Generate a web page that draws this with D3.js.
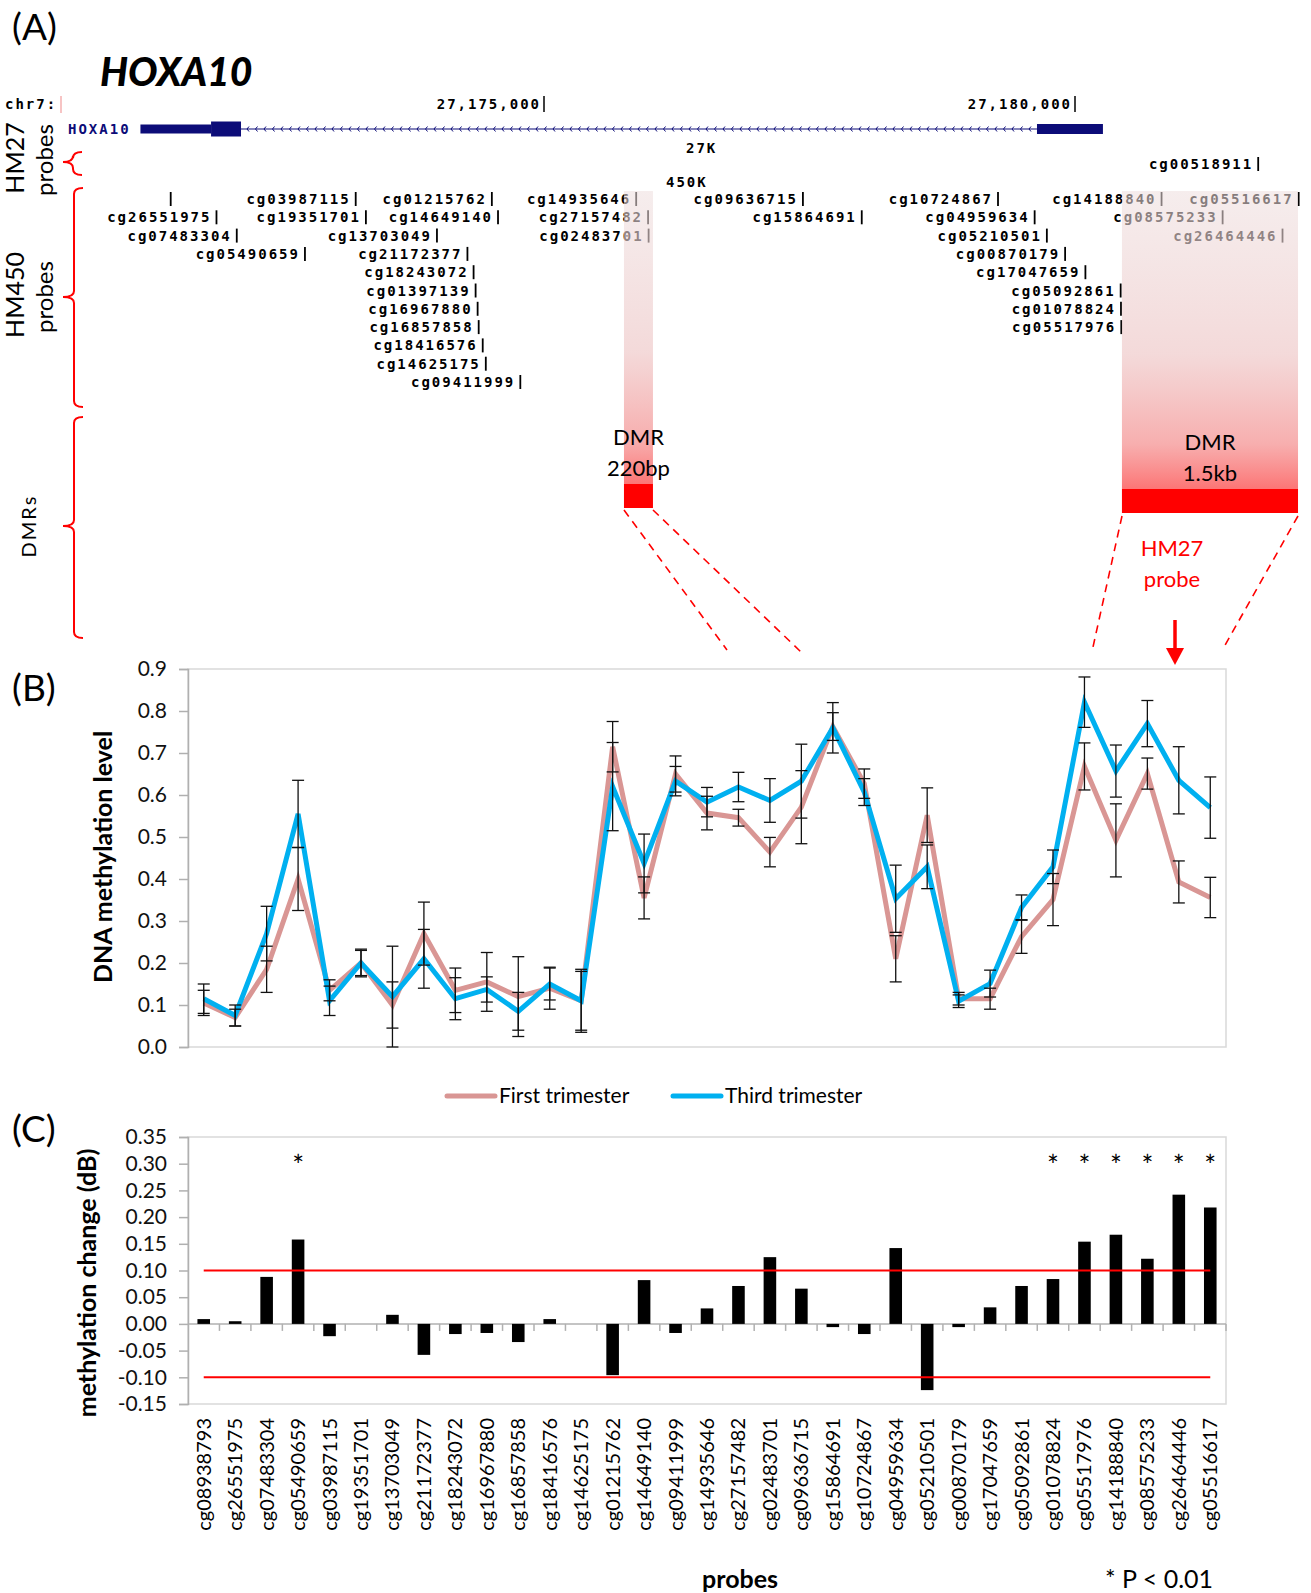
<!DOCTYPE html>
<html>
<head>
<meta charset="utf-8">
<script src="https://cdn.jsdelivr.net/npm/d3@7"></script>
<style>
  body { margin: 0; background: #fff; }
  svg { display: block; font-family: Lato, "Open Sans", sans-serif; }
  .mono { font-family: "DejaVu Sans Mono", monospace; font-size: 14px; letter-spacing: 2px; font-weight: bold; }
</style>
</head>
<body>
<div id="fig"></div>
<script>
// ---- panel B / C data ----
const probes = ["cg08938793","cg26551975","cg07483304","cg05490659","cg03987115","cg19351701",
  "cg13703049","cg21172377","cg18243072","cg16967880","cg16857858","cg18416576","cg14625175",
  "cg01215762","cg14649140","cg09411999","cg14935646","cg27157482","cg02483701","cg09636715",
  "cg15864691","cg10724867","cg04959634","cg05210501","cg00870179","cg17047659","cg05092861",
  "cg01078824","cg05517976","cg14188840","cg08575233","cg26464446","cg05516617"];

const firstTrimester = [0.105,0.07,0.185,0.40,0.135,0.20,0.10,0.27,0.135,0.155,0.12,0.14,0.11,
  0.715,0.355,0.65,0.557,0.546,0.464,0.571,0.763,0.627,0.21,0.552,0.115,0.115,0.263,
  0.351,0.668,0.492,0.651,0.393,0.356];
const firstErr = [0.03,0.02,0.055,0.075,0.025,0.03,0.055,0.075,0.053,0.07,0.095,0.05,0.075,
  0.06,0.05,0.043,0.04,0.02,0.035,0.087,0.033,0.035,0.055,0.065,0.015,0.025,0.04,
  0.062,0.056,0.087,0.037,0.05,0.048];
const thirdTrimester = [0.115,0.075,0.27,0.555,0.11,0.20,0.12,0.21,0.115,0.137,0.085,0.15,0.11,
  0.62,0.437,0.633,0.583,0.619,0.587,0.633,0.76,0.607,0.353,0.429,0.109,0.151,0.332,
  0.429,0.821,0.657,0.77,0.635,0.57];
const thirdErr = [0.035,0.025,0.065,0.08,0.035,0.033,0.12,0.07,0.05,0.03,0.045,0.038,0.07,
  0.105,0.07,0.035,0.035,0.035,0.052,0.088,0.06,0.032,0.08,0.052,0.015,0.032,0.03,
  0.04,0.06,0.062,0.055,0.08,0.073];

const methylChange = [0.009,0.005,0.088,0.158,-0.023,0,0.017,-0.058,-0.019,-0.017,-0.034,0.009,0,
  -0.096,0.082,-0.017,0.029,0.071,0.125,0.066,-0.006,-0.019,0.142,-0.124,-0.006,0.031,0.071,
  0.084,0.154,0.167,0.122,0.242,0.218];
const significant = ["cg05490659","cg01078824","cg05517976","cg14188840","cg08575233","cg26464446","cg05516617"];
const thresholds = [0.10, -0.10];

const yTicksB = [0,0.1,0.2,0.3,0.4,0.5,0.6,0.7,0.8,0.9];
const yTicksC = [-0.15,-0.10,-0.05,0,0.05,0.10,0.15,0.20,0.25,0.30,0.35];
const seriesNames = ["First trimester","Third trimester"];

// ---- panel A data (chr7, bp) ----
const chrTicks = [27175000, 27180000];
const geneName = "HOXA10";
const geneParts = [
  {type: "utr",    start: 27171200, end: 27171865},
  {type: "cds",    start: 27171865, end: 27172147},
  {type: "intron", start: 27172147, end: 27179642},
  {type: "exon",   start: 27179642, end: 27180263}
];
const hm27Names = ["cg00518911"];
const hm27Pos = [27181725];
const hm450Names = ["cg08938793","cg03987115","cg01215762","cg14935646","cg09636715","cg10724867","cg14188840","cg05516617",
  "cg26551975","cg19351701","cg14649140","cg27157482","cg15864691","cg04959634","cg08575233",
  "cg07483304","cg13703049","cg02483701","cg05210501","cg26464446",
  "cg05490659","cg21172377","cg00870179",
  "cg18243072","cg17047659",
  "cg01397139","cg05092861",
  "cg16967880","cg01078824",
  "cg16857858","cg05517976",
  "cg18416576","cg14625175","cg09411999"];
const hm450Pos = [27171485,27173227,27174509,27175868,27177438,27179275,27180815,27182106,
  27171916,27173323,27174567,27175980,27177992,27179620,27181390,
  27172107,27173992,27175985,27179735,27181954,
  27172749,27174279,27179907,
  27174337,27180098,
  27174356,27180430,
  27174375,27180433,
  27174385,27180436,
  27174423,27174452,27174777];
const hm450Row = [0,0,0,0,0,0,0,0, 1,1,1,1,1,1,1, 2,2,2,2,2, 3,3,3, 4,4, 5,5, 6,6, 7,7, 8,9,10];
const dmrStart = [27175753, 27180442];
const dmrEnd = [27176026, 27182100];
const dmrSize = ["220bp", "1.5kb"];

// ---- drawing ----
const W = 1311, H = 1593;
const svg = d3.select("#fig").append("svg").attr("width", W).attr("height", H);

const red = "#ff0000", pink = "#d99694", blue = "#00b0f0", navy = "#0c0c78";

function panelLabel(txt, x, y) {
  svg.append("text").attr("x", x).attr("y", y).attr("font-size", 37).text(txt);
}

function brace(xHook, xSpine, xTip, yTop, yMid, yBot) {
  const r = 6;
  const p = `M${xHook},${yTop} Q${xSpine},${yTop} ${xSpine},${yTop + r} L${xSpine},${yMid - r}
    Q${xSpine},${yMid} ${xTip},${yMid} Q${xSpine},${yMid} ${xSpine},${yMid + r}
    L${xSpine},${yBot - r} Q${xSpine},${yBot} ${xHook},${yBot}`;
  svg.append("path").attr("d", p).attr("fill", "none").attr("stroke", red).attr("stroke-width", 2);
}

function vText(txt, x, y, size, extra) {
  const t = svg.append("text").attr("transform", `translate(${x},${y}) rotate(-90)`)
    .attr("text-anchor", "middle").attr("font-size", size).text(txt);
  if (extra) extra(t);
  return t;
}

// ===== Panel A =====
panelLabel("(A)", 12, 40);
svg.append("text").attr("x", 100).attr("y", 86).attr("font-size", 39)
  .attr("font-weight", 900).attr("font-style", "italic").text("HOXA10");

const xg = d3.scaleLinear().domain(chrTicks).range([544, 1075]);

const gA = svg.append("g");
gA.append("text").attr("class", "mono").attr("x", 5).attr("y", 109).text("chr7:");
gA.append("line").attr("x1", 61).attr("x2", 61).attr("y1", 96).attr("y2", 113)
  .attr("stroke", "#f4b0b0").attr("stroke-width", 1.5);
chrTicks.forEach(t => {
  const x = xg(t);
  gA.append("text").attr("class", "mono").attr("x", x - 3).attr("y", 109)
    .attr("text-anchor", "end").text(d3.format(",")(t));
  gA.append("line").attr("x1", x).attr("x2", x).attr("y1", 96).attr("y2", 112)
    .attr("stroke", "#000").attr("stroke-width", 1.5);
});

// gene model
const geneY = 129;
gA.append("text").attr("class", "mono").attr("x", 68).attr("y", geneY + 5)
  .attr("fill", navy).attr("font-size", 12).attr("letter-spacing", 1.5).text(geneName);
const hByType = {utr: 9, cds: 15, exon: 10};
geneParts.forEach(p => {
  const x0 = xg(p.start), x1 = xg(p.end);
  if (p.type === "intron") {
    gA.append("line").attr("x1", x0).attr("x2", x1).attr("y1", geneY).attr("y2", geneY)
      .attr("stroke", navy).attr("stroke-width", 1.2);
    const chev = d3.range(x0 + 6, x1 - 4, 8.5);
    gA.append("path").attr("fill", "none").attr("stroke", navy).attr("stroke-width", 1)
      .attr("d", chev.map(c => `M${c + 2},${geneY - 2.5} L${c},${geneY} L${c + 2},${geneY + 2.5}`).join(" "));
  } else {
    const h = hByType[p.type];
    gA.append("rect").attr("x", x0).attr("y", geneY - h / 2).attr("width", x1 - x0).attr("height", h)
      .attr("fill", navy);
  }
});
gA.append("text").attr("class", "mono").attr("x", 686).attr("y", 153).text("27K");
gA.append("text").attr("class", "mono").attr("x", 666).attr("y", 187).text("450K");

function probeLabel(name, pos, y) {
  const x = xg(pos);
  const txtEnd = x - 5;
  gA.append("line").attr("x1", x).attr("x2", x).attr("y1", y - 12).attr("y2", y + 2)
    .attr("stroke", "#000").attr("stroke-width", 1.8);
  if (txtEnd - name.length * 10.4 > 90) {
    gA.append("text").attr("class", "mono").attr("x", txtEnd).attr("y", y)
      .attr("text-anchor", "end").text(name);
  }
}
hm27Names.forEach((n, i) => probeLabel(n, hm27Pos[i], 169));
const rowY = r => 204 + r * 18.3;
hm450Names.forEach((n, i) => probeLabel(n, hm450Pos[i], rowY(hm450Row[i])));

// DMR boxes
const defs = svg.append("defs");
const grad = defs.append("linearGradient").attr("id", "dmrGrad").attr("x1", 0).attr("x2", 0).attr("y1", 0).attr("y2", 1);
grad.append("stop").attr("offset", "0%").attr("stop-color", "rgb(238,222,222)").attr("stop-opacity", 0.55);
grad.append("stop").attr("offset", "55%").attr("stop-color", "rgb(240,205,205)").attr("stop-opacity", 0.75);
grad.append("stop").attr("offset", "85%").attr("stop-color", "rgb(246,160,160)").attr("stop-opacity", 0.85);
grad.append("stop").attr("offset", "100%").attr("stop-color", "rgb(252,110,110)").attr("stop-opacity", 0.95);

const dmrTop = 191, dmrBlockH = 24;
const dmrBlockY = [484, 489];
dmrStart.forEach((s, i) => {
  const x0 = xg(s), x1 = xg(dmrEnd[i]);
  svg.append("rect").attr("x", x0).attr("y", dmrTop).attr("width", x1 - x0)
    .attr("height", dmrBlockY[i] - dmrTop).attr("fill", "url(#dmrGrad)");
  svg.append("rect").attr("x", x0).attr("y", dmrBlockY[i]).attr("width", x1 - x0)
    .attr("height", dmrBlockH).attr("fill", red);
  const cx = (x0 + x1) / 2;
  svg.append("text").attr("x", cx).attr("y", dmrBlockY[i] - 39).attr("text-anchor", "middle")
    .attr("font-size", 22).text("DMR");
  svg.append("text").attr("x", cx).attr("y", dmrBlockY[i] - 8).attr("text-anchor", "middle")
    .attr("font-size", 22).text(dmrSize[i]);
});

// brackets and track labels
brace(82, 73, 63, 152, 162, 175);
brace(83, 74, 63, 188, 297, 407);
brace(83, 74, 63, 417, 526, 638);
vText("HM27", 24, 158, 25);
vText("probes", 53, 160, 24);
vText("HM450", 24, 295, 25);
vText("probes", 53, 297, 24);
vText("DMRs", 36, 526, 20, t => t.attr("letter-spacing", 2));

// dashed zoom lines
const dash = [[624, 510, 727, 650], [653, 510, 801, 652], [1122, 516, 1093, 647], [1298, 516, 1224, 647]];
dash.forEach(d => svg.append("line").attr("x1", d[0]).attr("y1", d[1]).attr("x2", d[2]).attr("y2", d[3])
  .attr("stroke", red).attr("stroke-width", 1.6).attr("stroke-dasharray", "8,6"));
svg.append("text").attr("x", 1172).attr("y", 556).attr("text-anchor", "middle")
  .attr("font-size", 22).attr("fill", red).text("HM27");
svg.append("text").attr("x", 1172).attr("y", 587).attr("text-anchor", "middle")
  .attr("font-size", 22).attr("fill", red).text("probe");
svg.append("line").attr("x1", 1175).attr("x2", 1175).attr("y1", 620).attr("y2", 652)
  .attr("stroke", red).attr("stroke-width", 3.5);
svg.append("path").attr("d", "M1166,648 L1184,648 L1175,665 Z").attr("fill", red);

// ===== Panel B =====
const left = 188, right = 1226;
const xBand = d3.scaleBand().domain(probes).range([left, right]);
const xc = p => xBand(p) + xBand.bandwidth() / 2;

panelLabel("(B)", 12, 701);
const yB = d3.scaleLinear().domain([0, 0.9]).range([1047, 669]);
const gB = svg.append("g");
gB.append("rect").attr("x", left).attr("y", yB(0.9)).attr("width", right - left)
  .attr("height", yB(0) - yB(0.9)).attr("fill", "none").attr("stroke", "#d9d9d9").attr("stroke-width", 1.5);
const axB = gB.append("g").attr("transform", `translate(${left},0)`)
  .call(d3.axisLeft(yB).tickValues(yTicksB).tickFormat(d3.format(".1f")).tickSize(9).tickPadding(12));
axB.selectAll("path,line").attr("stroke", "#b0b0b0").attr("stroke-width", 1.5);
axB.selectAll("text").attr("font-size", 21).attr("font-family", "Lato").attr("fill", "#111");
vText("DNA methylation level", 112, 857, 25, t => t.attr("font-weight", "bold"));

const line = d3.line().x((d, i) => xc(probes[i])).y(d => yB(d));
gB.append("path").datum(firstTrimester).attr("d", line).attr("fill", "none")
  .attr("stroke", pink).attr("stroke-width", 5).attr("stroke-linejoin", "miter");
gB.append("path").datum(thirdTrimester).attr("d", line).attr("fill", "none")
  .attr("stroke", blue).attr("stroke-width", 5).attr("stroke-linejoin", "miter");

function errBars(vals, errs) {
  const g = gB.append("g").attr("stroke", "#111").attr("stroke-width", 1.3);
  vals.forEach((v, i) => {
    const x = xc(probes[i]);
    const y0 = yB(Math.max(0, v - errs[i])), y1 = yB(v + errs[i]);
    g.append("line").attr("x1", x).attr("x2", x).attr("y1", y0).attr("y2", y1);
    [y0, y1].forEach(y => g.append("line").attr("x1", x - 6).attr("x2", x + 6).attr("y1", y).attr("y2", y));
  });
}
errBars(firstTrimester, firstErr);
errBars(thirdTrimester, thirdErr);

// legend
const legX = [447, 673], legColors = [pink, blue];
seriesNames.forEach((s, i) => {
  gB.append("line").attr("x1", legX[i]).attr("x2", legX[i] + 48).attr("y1", 1096).attr("y2", 1096)
    .attr("stroke", legColors[i]).attr("stroke-width", 5).attr("stroke-linecap", "round");
  gB.append("text").attr("x", legX[i] + 52).attr("y", 1103).attr("font-size", 21).text(s);
});

// ===== Panel C =====
panelLabel("(C)", 12, 1142);
const yC = d3.scaleLinear().domain([-0.15, 0.35]).range([1404, 1137]);
const gC = svg.append("g");
gC.append("rect").attr("x", left).attr("y", yC(0.35)).attr("width", right - left)
  .attr("height", yC(-0.15) - yC(0.35)).attr("fill", "none").attr("stroke", "#d9d9d9").attr("stroke-width", 1.5);
const axC = gC.append("g").attr("transform", `translate(${left},0)`)
  .call(d3.axisLeft(yC).tickValues(yTicksC).tickFormat(d => d.toFixed(2)).tickSize(9).tickPadding(12));
axC.selectAll("path,line").attr("stroke", "#b0b0b0").attr("stroke-width", 1.5);
axC.selectAll("text").attr("font-size", 21).attr("font-family", "Lato").attr("fill", "#111");
vText("methylation change (dB)", 96, 1283, 25, t => t.attr("font-weight", "bold"));

// zero axis with category ticks
const y0 = yC(0);
gC.append("line").attr("x1", left).attr("x2", right).attr("y1", y0).attr("y2", y0)
  .attr("stroke", "#b0b0b0").attr("stroke-width", 1.5);
gC.selectAll(".ctick").data(probes.slice(1).map(p => xBand(p)).concat([right]))
  .join("line").attr("x1", d => d).attr("x2", d => d).attr("y1", y0).attr("y2", y0 + 7)
  .attr("stroke", "#b0b0b0").attr("stroke-width", 1.5);

const bw = xBand.bandwidth() * 0.4;
gC.selectAll(".bar").data(methylChange).join("rect")
  .attr("x", (d, i) => xc(probes[i]) - bw / 2)
  .attr("y", d => Math.min(yC(d), y0))
  .attr("width", bw)
  .attr("height", d => Math.abs(yC(d) - y0))
  .attr("fill", "#000");

thresholds.forEach(t => gC.append("line")
  .attr("x1", xc(probes[0])).attr("x2", xc(probes[probes.length - 1]))
  .attr("y1", yC(t)).attr("y2", yC(t)).attr("stroke", red).attr("stroke-width", 2));

gC.selectAll(".star").data(significant).join("text")
  .attr("x", d => xc(d)).attr("y", yC(0.30) + 12).attr("text-anchor", "middle")
  .attr("font-size", 28).text("*");

gC.selectAll(".xlab").data(probes).join("text")
  .attr("transform", d => `translate(${xc(d)},1418) rotate(-90)`)
  .attr("text-anchor", "end").attr("dy", "0.35em").attr("font-size", 20).text(d => d);

svg.append("text").attr("x", 740).attr("y", 1588).attr("text-anchor", "middle")
  .attr("font-size", 25).attr("font-weight", "bold").text("probes");
svg.append("text").attr("x", 1105).attr("y", 1588).attr("font-size", 25).text("* P < 0.01");
</script>
</body>
</html>
